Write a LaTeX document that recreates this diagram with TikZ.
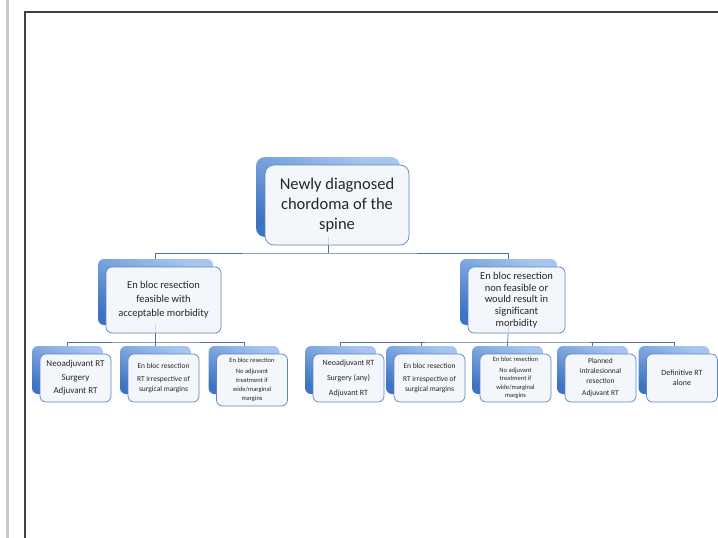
\documentclass[tikz,border=0pt]{standalone}
\usepackage{fontspec}
\setmainfont{Carlito}
\usetikzlibrary{positioning,calc,backgrounds}
\definecolor{linkblue}{HTML}{4F72A8}
\definecolor{shadetop}{HTML}{A6C6EF}
\definecolor{shadebot}{HTML}{3C73C2}
\definecolor{cardedge}{HTML}{5D86C0}
\definecolor{cardfill}{HTML}{F3F6FB}
\definecolor{framegray}{HTML}{404040}
\definecolor{sidebar}{HTML}{C8C8C8}

\begin{document}
\begin{tikzpicture}[x=1pt,y=-1pt,
  dims/.style 2 args={minimum width=#1pt, minimum height=#2pt},
  back/.style={rounded corners=6pt, top color=shadetop, bottom color=shadebot,
               shading angle=-25, inner sep=0pt},
  card/.style={draw=cardedge, line width=0.7pt, rounded corners=6pt, fill=cardfill,
               align=center, inner sep=1pt, text=black!85},
  link/.style={draw=linkblue, line width=0.7pt}]
  \useasboundingbox (0,0) rectangle (718,538);
  \fill[sidebar] (6,0) rectangle (9,538);
  \draw[framegray, line width=1.5pt] (718,12) -- (25,12) -- (25,538);

  % top level
  \node[back, dims={144}{80}, rounded corners=9pt] (top) at (328,197) {};
  \node[card, dims={144}{80}, rounded corners=9pt, font=\fontsize{16.5}{20}\selectfont]
    (topcard) at ([shift={(9,8)}]top) {Newly diagnosed\\chordoma of the\\spine};

  % second level
  \node[back, dims={115}{66}] (lmid) at (155.5,292) {};
  \node[card, dims={115}{66}, font=\fontsize{10.5}{14}\selectfont]
    (lmidcard) at ([shift={(8,8)}]lmid) {En bloc resection\\feasible with\\acceptable morbidity};
  \node[back, dims={97}{66}] (rmid) at (508.5,292) {};
  \node[card, dims={97}{66}, font=\fontsize{10.5}{11.8}\selectfont]
    (rmidcard) at ([shift={(8,8)}]rmid) {En bloc resection\\non feasible or\\would result in\\significant\\morbidity};

  % third level, left
  \node[back, dims={71}{48}] (la) at (67.5,370) {};
  \node[card, dims={71}{48}, font=\fontsize{9}{13.5}\selectfont]
    (lacard) at ([shift={(8,8)}]la) {Neoadjuvant RT\\Surgery\\Adjuvant RT};
  \node[back, dims={71}{48}] (lb) at (155.5,370) {};
  \node[card, dims={71}{48}, font=\fontsize{7.5}{9.5}\selectfont]
    (lbcard) at ([shift={(8,8)}]lb) {En bloc resection\\[4pt]RT irrespective of\\surgical margins};
  \node[back, dims={71}{48}] (lc) at (244,370) {};
  \node[card, dims={71}{52}, font=\fontsize{6.5}{9}\selectfont]
    (lccard) at ([shift={(8,10)}]lc) {En bloc resection\\[2pt]No adjuvant\\treatment if\\wide/marginal\\margins};

  % third level, right
  \node[back, dims={71}{48}] (ra) at (340.5,370) {};
  \node[card, dims={71}{48}, font=\fontsize{8}{10}\selectfont]
    (racard) at ([shift={(8,8)}]ra) {Neoadjuvant RT\\[5pt]Surgery (any)\\[5pt]Adjuvant RT};
  \node[back, dims={71}{48}] (rb) at (421.5,370) {};
  \node[card, dims={71}{48}, font=\fontsize{7.5}{9.5}\selectfont]
    (rbcard) at ([shift={(8,8)}]rb) {En bloc resection\\[4pt]RT irrespective of\\surgical margins};
  \node[back, dims={71}{48}] (rc) at (507.5,370) {};
  \node[card, dims={71}{48}, font=\fontsize{6.5}{8.6}\selectfont]
    (rccard) at ([shift={(8,8)}]rc) {En bloc resection\\[2pt]No adjuvant\\treatment if\\wide/marginal\\margins};
  \node[back, dims={71}{48}] (rd) at (592.5,370) {};
  \node[card, dims={71}{48}, font=\fontsize{7.5}{10}\selectfont]
    (rdcard) at ([shift={(8,8)}]rd) {Planned\\intralesionnal\\resection\\[2pt]Adjuvant RT};
  \node[back, dims={71}{48}] (re) at (674,370) {};
  \node[card, dims={71}{48}, font=\fontsize{8}{10.5}\selectfont]
    (recard) at ([shift={(8,8)}]re) {Definitive RT\\alone};

  % connectors
  \coordinate (bus0) at (0,253);
  \coordinate (bus1) at (0,342);
  \begin{scope}[on background layer]
    \draw[link] (top.south) -- (top.south |- bus0);
    \draw[link] (lmid.north) |- (top.south |- bus0) -| (rmid.north);
    \draw[link] (lmid.south) -- (lb.north);
    \draw[link] (la.north) |- (lb.north |- bus1) -| (lc.north);
    \draw[link] (rmid.south) -- (rc.north);
    \draw[link] (ra.north) |- (rc.north |- bus1) -| (re.north);
    \draw[link] (rb.north) -- (rb.north |- bus1);
    \draw[link] (rd.north) -- (rd.north |- bus1);
  \end{scope}
  % faint part seen through the cards
  \draw[link, draw=linkblue!30] (top.south) -- (top.south |- topcard.south);
  \draw[link, draw=linkblue!30] (lmid.south) -- (lmid.south |- lmidcard.south);
  \draw[link, draw=linkblue!30] (rmid.south) -- (rmid.south |- rmidcard.south);
\end{tikzpicture}
\end{document}
